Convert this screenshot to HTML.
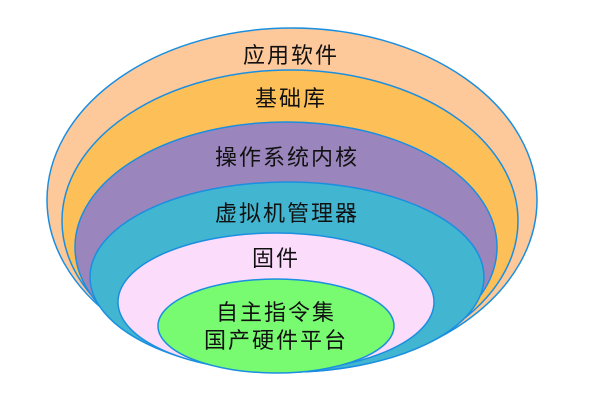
<!DOCTYPE html>
<html><head><meta charset="utf-8"><style>
html,body{margin:0;padding:0;background:#fff;}
svg{display:block}
text{font-family:"Liberation Sans","Noto Sans CJK SC",sans-serif;font-size:22px;fill:#111;text-anchor:middle;letter-spacing:2px}
</style></head><body>
<svg width="600" height="400" viewBox="0 0 600 400">
<g stroke="#1a8fe0" stroke-width="1.5">
<ellipse cx="292" cy="200" rx="245" ry="172" fill="#fdc89a"/>
<ellipse cx="290" cy="221" rx="228" ry="151" fill="#fdbf57"/>
<ellipse cx="286" cy="247" rx="211" ry="125" fill="#9b85bd"/>
<ellipse cx="287" cy="277" rx="197" ry="95" fill="#42b5d0"/>
<ellipse cx="276" cy="302" rx="158" ry="69" fill="#fcdcfb"/>
<ellipse cx="276" cy="326" rx="118" ry="47" fill="#78fb70"/>
</g>
<text x="291" y="63">应用软件</text>
<text x="291" y="106">基础库</text>
<text x="287" y="165">操作系统内核</text>
<text x="287" y="221">虚拟机管理器</text>
<text x="276" y="266">固件</text>
<text x="276" y="320">自主指令集</text>
<text x="276" y="348">国产硬件平台</text>
</svg>
</body></html>
